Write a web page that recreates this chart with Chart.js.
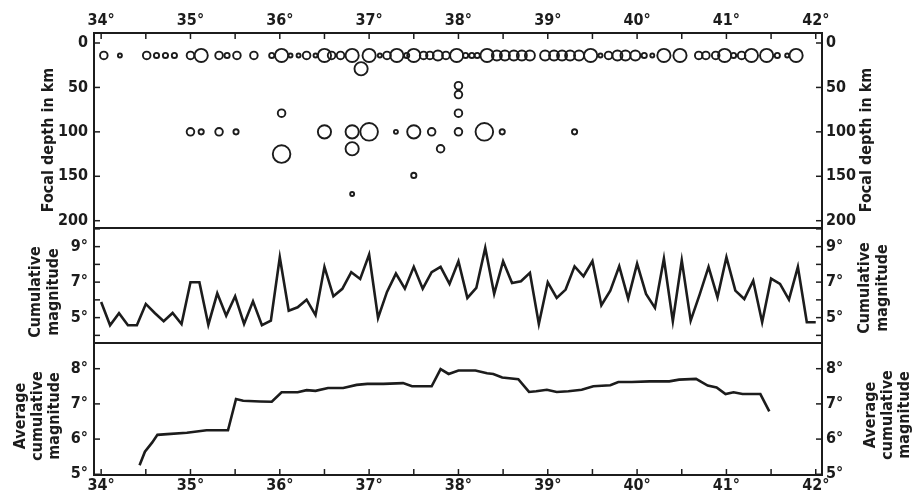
<!DOCTYPE html>
<html><head><meta charset="utf-8">
<script src="https://cdn.jsdelivr.net/npm/chart.js@4.4.1/dist/chart.umd.min.js"></script>
<style>
html,body{margin:0;padding:0;background:#fff;}
#wrap{position:relative;width:917px;height:494px;overflow:hidden;background:#fff;}
canvas{position:absolute;left:0;}
</style></head><body>
<div id="wrap">
<canvas id="c1" width="917" height="230" style="top:0px"></canvas>
<canvas id="c2" width="917" height="119" style="top:226px"></canvas>
<canvas id="c3" width="917" height="153" style="top:341px"></canvas>
</div>
<script>
// ---- Top panel: earthquake foci (longitude, depth km, magnitude class) ----
const eventLon = [34.03,34.21,34.51,34.62,34.72,34.82,35.00,35.12,35.32,35.41,35.52,35.71,35.91,36.02,36.12,36.21,36.30,36.40,36.50,36.58,36.68,36.81,36.91,37.00,37.12,37.20,37.31,37.42,37.50,37.61,37.68,37.77,37.86,37.98,38.08,38.15,38.21,38.32,38.43,38.52,38.62,38.71,38.80,38.97,39.07,39.16,39.25,39.35,39.48,39.59,39.68,39.78,39.87,39.98,40.08,40.17,40.30,40.48,40.69,40.77,40.88,40.98,41.08,41.17,41.28,41.45,41.57,41.68,41.78,
  35.00,35.12,35.32,35.51,36.02,36.02,36.50,36.81,37.00,36.81,36.81,37.30,37.50,37.70,37.80,37.50,38.00,38.00,38.00,38.00,38.29,38.49,39.30];
const eventDepth = [14,14,14,14,14,14,14,14,14,14,14,14,14,14,14,14,14,14,14,14,14,14,29,14,14,14,14,14,14,14,14,14,14,14,14,14,14,14,14,14,14,14,14,14,14,14,14,14,14,14,14,14,14,14,14,14,14,14,14,14,14,14,14,14,14,14,14,14,14,
  100,100,100,100,79,125,100,100,100,119,170,100,100,100,119,149,48,58,79,100,100,100,100];
const eventClass = [3,1,3,2,2,2,3,5,3,2,3,3,2,5,1,1,3,1,5,3,3,5,5,5,1,3,5,2,5,3,3,4,3,5,2,2,2,5,4,4,4,4,4,4,4,4,4,4,5,1,3,4,4,4,2,1,5,5,3,3,3,5,2,3,5,5,2,1,5,
  3,2,3,2,3,6,5,5,6,5,1,1,5,3,3,2,3,3,3,3,6,2,2];

// ---- Middle panel: cumulative magnitude ----
const cumLon = [34.0,34.1,34.2,34.3,34.4,34.5,34.6,34.7,34.8,34.9,35.0,35.1,35.2,35.3,35.4,35.5,35.6,35.7,35.8,35.9,36.0,36.1,36.2,36.3,36.4,36.5,36.6,36.7,36.8,36.9,37.0,37.1,37.2,37.3,37.4,37.5,37.6,37.7,37.8,37.9,38.0,38.1,38.2,38.3,38.4,38.5,38.6,38.7,38.8,38.9,39.0,39.1,39.2,39.3,39.4,39.5,39.6,39.7,39.8,39.9,40.0,40.1,40.2,40.3,40.4,40.5,40.6,40.7,40.8,40.9,41.0,41.1,41.2,41.3,41.4,41.5,41.6,41.7,41.8,41.9,42.0];
const cumMag = [5.88,4.57,5.25,4.57,4.57,5.77,5.26,4.80,5.26,4.64,6.99,6.99,4.60,6.37,5.11,6.20,4.64,5.92,4.57,4.83,8.40,5.39,5.58,6.01,5.14,7.86,6.20,6.62,7.56,7.18,8.55,4.98,6.45,7.48,6.63,7.86,6.63,7.56,7.86,6.90,8.18,6.11,6.67,8.93,6.34,8.18,6.95,7.05,7.52,4.64,6.99,6.11,6.58,7.89,7.33,8.18,5.70,6.52,7.89,6.07,8.04,6.34,5.55,8.32,4.80,8.23,4.83,6.30,7.86,6.15,8.40,6.52,6.05,7.08,4.74,7.20,6.90,6.01,7.86,4.74,4.74];

// ---- Bottom panel: average cumulative magnitude ----
const avgLon = [34.43,34.49,34.57,34.63,34.74,34.96,35.18,35.42,35.51,35.59,35.78,35.91,36.02,36.20,36.30,36.40,36.54,36.71,36.86,36.98,37.16,37.38,37.48,37.70,37.80,37.89,38.00,38.19,38.32,38.39,38.49,38.67,38.79,38.87,38.99,39.10,39.23,39.38,39.51,39.70,39.79,39.94,40.14,40.36,40.47,40.66,40.79,40.89,40.99,41.08,41.18,41.38,41.48];
const avgMag = [5.26,5.64,5.90,6.12,6.14,6.18,6.25,6.25,7.14,7.09,7.07,7.06,7.33,7.33,7.39,7.37,7.45,7.45,7.54,7.57,7.57,7.59,7.50,7.50,7.99,7.85,7.95,7.95,7.87,7.85,7.75,7.70,7.34,7.36,7.40,7.34,7.36,7.40,7.50,7.53,7.62,7.62,7.64,7.64,7.69,7.71,7.52,7.47,7.28,7.33,7.28,7.28,6.79];

// ---- Axis texts ----
const depthTitle = ['Focal depth in km'];
const cumTitle = ['Cumulative', 'magnitude'];
const avgTitle = ['Average', 'cumulative', 'magnitude'];

const INK = '#1c1c1c';
const FONT = "'DejaVu Sans Condensed', 'DejaVu Sans', sans-serif";
Chart.defaults.font.family = FONT;
Chart.defaults.font.size = 16;
Chart.defaults.font.weight = 'bold';
Chart.defaults.color = INK;
Chart.defaults.animation = false;

const classRadius = {1: 2, 2: 2.6, 3: 3.8, 4: 5.0, 5: 6.6, 6: 8.8};
const isInt = v => Math.abs(v - Math.round(v)) < 1e-6;
const degLabel = v => isInt(v) ? Math.round(v) + '°' : '';

// frame + inward ticks + rotated side titles
const framePlugin = {
  id: 'frame',
  afterDraw(chart, args, opts) {
    const ctx = chart.ctx, a = chart.chartArea;
    ctx.save();
    ctx.strokeStyle = INK;
    ctx.lineWidth = 2;
    ctx.strokeRect(a.left, a.top, a.right - a.left, a.bottom - a.top);
    ctx.lineWidth = 1.5;
    const len = 6;
    Object.values(chart.scales).forEach(s => {
      if (!s.options.display) return;
      s.ticks.forEach(t => {
        const p = s.getPixelForValue(t.value);
        ctx.beginPath();
        if (s.position === 'top') { ctx.moveTo(p, a.top); ctx.lineTo(p, a.top + len); }
        else if (s.position === 'bottom') { ctx.moveTo(p, a.bottom); ctx.lineTo(p, a.bottom - len); }
        else if (s.position === 'left') { ctx.moveTo(a.left, p); ctx.lineTo(a.left + len, p); }
        else if (s.position === 'right') { ctx.moveTo(a.right, p); ctx.lineTo(a.right - len, p); }
        ctx.stroke();
      });
    });
    ctx.fillStyle = INK;
    ctx.font = 'bold 16px ' + FONT;
    ctx.textAlign = 'center';
    ctx.textBaseline = 'middle';
    (opts.titles || []).forEach(tt => {
      tt.lines.forEach((line, i) => {
        ctx.save();
        ctx.translate(tt.x + i * tt.gap, tt.y);
        ctx.rotate(-Math.PI / 2);
        ctx.fillText(line, 0, 0);
        ctx.restore();
      });
    });
    ctx.restore();
  }
};

function zeroPad(s) { s.paddingTop = 0; s.paddingBottom = 0; s.paddingLeft = 0; s.paddingRight = 0; }
function xScale(position, display) {
  return {
    type: 'linear', position, display, min: 33.92, max: 42.07,
    grid: { display: false, drawTicks: false },
    border: { display: false },
    ticks: { stepSize: 0.5, includeBounds: false, autoSkip: false, maxRotation: 0, padding: position === 'top' ? 3 : 1, callback: degLabel },
    afterFit: s => { s.height = display ? (position === 'top' ? 33 : 19) : 0; zeroPad(s); }
  };
}
function yScale(position, min, max, step, reverse, cb) {
  return {
    type: 'linear', position, min, max, reverse,
    grid: { display: false, drawTicks: false },
    border: { display: false },
    ticks: { stepSize: step, includeBounds: false, autoSkip: false, padding: position === 'left' ? 6 : 4, callback: cb },
    afterFit: s => { s.width = position === 'left' ? 94 : 95; zeroPad(s); }
  };
}

// Top chart
new Chart(document.getElementById('c1'), {
  type: 'bubble',
  data: { datasets: [{
    data: eventLon.map((x, i) => ({ x, y: eventDepth[i], r: classRadius[eventClass[i]] })),
    backgroundColor: 'rgba(0,0,0,0)', borderColor: INK, borderWidth: 1.9, hoverRadius: 0
  }]},
  options: {
    responsive: false, clip: false,
    layout: { autoPadding: false, padding: { top: 0, bottom: 2, left: 0, right: 0 } },
    plugins: { legend: { display: false }, tooltip: { enabled: false },
      frame: { titles: [ { lines: depthTitle, x: 49, y: 140, gap: 17 }, { lines: depthTitle, x: 867, y: 140, gap: 17 } ] } },
    scales: {
      x: xScale('top', true),
      y: yScale('left', -11.25, 208.2, 50, true, v => String(v)),
      y2: yScale('right', -11.25, 208.2, 50, true, v => String(v))
    }
  },
  plugins: [framePlugin]
});

// Middle chart
new Chart(document.getElementById('c2'), {
  type: 'line',
  data: { datasets: [{
    data: cumLon.map((x, i) => ({ x, y: cumMag[i] })),
    borderColor: INK, borderWidth: 2.6, pointRadius: 0, tension: 0, fill: false
  }]},
  options: {
    responsive: false,
    layout: { autoPadding: false, padding: { top: 2, bottom: 2, left: 0, right: 0 } },
    plugins: { legend: { display: false }, tooltip: { enabled: false },
      frame: { titles: [ { lines: cumTitle, x: 36, y: 66, gap: 18 }, { lines: cumTitle, x: 865, y: 62, gap: 18 } ] } },
    scales: {
      x: xScale('bottom', false),
      y: yScale('left', 3.57, 10.05, 1, false, v => (Math.round(v) % 2 === 1 ? Math.round(v) + '°' : '')),
      y2: yScale('right', 3.57, 10.05, 1, false, v => (Math.round(v) % 2 === 1 ? Math.round(v) + '°' : ''))
    }
  },
  plugins: [framePlugin]
});

// Bottom chart
new Chart(document.getElementById('c3'), {
  type: 'line',
  data: { datasets: [{
    data: avgLon.map((x, i) => ({ x, y: avgMag[i] })),
    borderColor: INK, borderWidth: 2.6, pointRadius: 0, tension: 0, fill: false
  }]},
  options: {
    responsive: false,
    layout: { autoPadding: false, padding: { top: 2, bottom: 0, left: 0, right: 0 } },
    plugins: { legend: { display: false }, tooltip: { enabled: false },
      frame: { titles: [ { lines: avgTitle, x: 21, y: 75, gap: 17 }, { lines: avgTitle, x: 871, y: 74, gap: 17 } ] } },
    scales: {
      x: xScale('bottom', true),
      y: yScale('left', 4.98, 8.73, 1, false, v => Math.round(v) + '°'),
      y2: yScale('right', 4.98, 8.73, 1, false, v => Math.round(v) + '°')
    }
  },
  plugins: [framePlugin]
});
</script>
</body></html>
